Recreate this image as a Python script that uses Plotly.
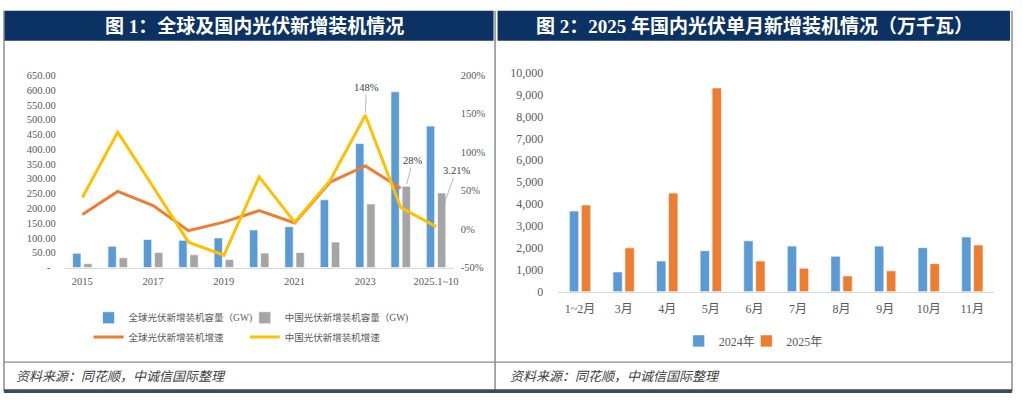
import plotly.graph_objects as go

# ---------------- data ----------------
years = ["2015", "2016", "2017", "2018", "2019", "2020", "2021", "2022", "2023", "2024", "2025.1~10"]
year_ticks = ["2015", "2017", "2019", "2021", "2023", "2025.1~10"]
global_gw = [48, 72, 95, 92, 100, 127, 138, 229, 419, 594, 478]
china_gw = [13, 33, 51, 43, 27, 49, 51, 86, 215, 275, 252]
global_growth_years = years[:10]
global_growth = [19, 49, 30.5, -2, 9, 24, 8, 61, 82, 53]
china_growth = [41, 126, 55, -17, -34, 68, 9, 63, 148, 28, 3.21]
left_ticks = [0, 50, 100, 150, 200, 250, 300, 350, 400, 450, 500, 550, 600, 650]
left_ticktext = ["-  "] + [f"{v:.2f}" for v in left_ticks[1:]]
pct_ticks = [-50, 0, 50, 100, 150, 200]
pct_ticktext = [f"{v}%" for v in pct_ticks]

months = ["1~2月", "3月", "4月", "5月", "6月", "7月", "8月", "9月", "10月", "11月"]
m2024 = [3680, 900, 1400, 1870, 2320, 2080, 1620, 2080, 2010, 2500]
m2025 = [3960, 2000, 4500, 9300, 1400, 1070, 720, 950, 1280, 2130]
right_ticks = list(range(0, 10001, 1000))

labelled = [("2023", 148, "148%"), ("2024", 28, "28%"), ("2025.1~10", 3.21, "3.21%")]

# ---------------- style ----------------
W, H = 1022, 400
FONT = "Liberation Serif, 'Noto Sans CJK SC', serif"
TICK = "#595959"
NAVY = "#0B3263"
FRAME = "#8C8C8C"
BLUE, GRAY, ORANGE, YELLOW = "#5B9BD5", "#A5A5A5", "#ED7D31", "#FFC000"


def px(x):
    return x / W


def py(y):
    return 1 - y / H


fig = go.Figure()

# left chart bars
fig.add_trace(go.Bar(x=years, y=global_gw, name="全球光伏新增装机容量（GW)",
                     marker=dict(color=BLUE, line=dict(color="white", width=0.6)),
                     width=0.235, offset=-0.275, xaxis="x", yaxis="y", legend="legend"))
fig.add_trace(go.Bar(x=years, y=china_gw, name="中国光伏新增装机容量（GW)",
                     marker=dict(color=GRAY, line=dict(color="white", width=0.6)),
                     width=0.235, offset=0.04, xaxis="x", yaxis="y", legend="legend4"))
# left chart lines
fig.add_trace(go.Scatter(x=global_growth_years, y=global_growth, mode="lines", name="全球光伏新增装机增速",
                         line=dict(color=ORANGE, width=3), xaxis="x", yaxis="y2", legend="legend3"))
fig.add_trace(go.Scatter(x=years, y=china_growth, mode="lines", name="中国光伏新增装机增速",
                         line=dict(color=YELLOW, width=3), xaxis="x", yaxis="y2", legend="legend5"))

# right chart bars
fig.add_trace(go.Bar(x=months, y=m2024, name="2024年",
                     marker=dict(color=BLUE, line=dict(color="white", width=0.6)),
                     width=0.215, offset=-0.245, xaxis="x2", yaxis="y3", legend="legend2"))
fig.add_trace(go.Bar(x=months, y=m2025, name="2025年",
                     marker=dict(color=ORANGE, line=dict(color="white", width=0.6)),
                     width=0.215, offset=0.03, xaxis="x2", yaxis="y3", legend="legend6"))

tickfont_l = dict(family=FONT, size=10.5, color=TICK)
tickfont_r = dict(family=FONT, size=12, color=TICK)

annotations = []
# data labels with leader lines (x given as category index)
offsets = {"2023": (1, -28, 2), "2024": (12, -47, 24), "2025.1~10": (20, -56, 22)}
for cat, val, txt in labelled:
    ax, ay, so = offsets[cat]
    annotations.append(dict(x=years.index(cat), y=val, xref="x", yref="y2", text=txt, showarrow=True,
                            arrowhead=0, arrowwidth=0.8, arrowcolor="#A6A6A6", ax=ax, ay=ay,
                            standoff=so, font=dict(family=FONT, size=10.5, color="#404040")))
# titles
annotations.append(dict(x=px(256), y=py(19.5), xref="paper", yref="paper", showarrow=False,
                        xanchor="center", yanchor="middle",
                        text="<b>图 1：全球及国内光伏新增装机情况</b>",
                        font=dict(family=FONT, size=19, color="white")))
annotations.append(dict(x=px(758), y=py(19.5), xref="paper", yref="paper", showarrow=False,
                        xanchor="center", yanchor="middle",
                        text="<b>图 2：2025 年国内光伏单月新增装机情况（万千瓦）</b>",
                        font=dict(family=FONT, size=19, color="white")))
# footers
for fx in (14, 510):
    annotations.append(dict(x=px(fx), y=py(383), xref="paper", yref="paper", showarrow=False,
                            xanchor="left", yanchor="middle", text="<i>资料来源：同花顺，中诚信国际整理</i>",
                            font=dict(family=FONT, size=13, color="#404040")))

shapes = [
    dict(type="rect", xref="paper", yref="paper", x0=px(4), x1=px(496), y0=py(35), y1=py(4),
         fillcolor=NAVY, line=dict(width=0)),
    dict(type="rect", xref="paper", yref="paper", x0=px(500), x1=px(1015), y0=py(35), y1=py(4),
         fillcolor=NAVY, line=dict(width=0)),
    dict(type="line", xref="paper", yref="paper", x0=px(4), x1=px(4), y0=py(4), y1=py(398),
         line=dict(color=FRAME, width=1.5)),
    dict(type="line", xref="paper", yref="paper", x0=px(497.5), x1=px(497.5), y0=py(4), y1=py(398),
         line=dict(color=FRAME, width=1.5)),
    dict(type="line", xref="paper", yref="paper", x0=px(1017), x1=px(1017), y0=py(4), y1=py(398),
         line=dict(color=FRAME, width=1.5)),
    dict(type="line", xref="paper", yref="paper", x0=px(4), x1=px(1017), y0=py(368), y1=py(368),
         line=dict(color=FRAME, width=1.2)),
    dict(type="rect", xref="paper", yref="paper", x0=px(4), x1=px(1017), y0=py(400), y1=py(396),
         fillcolor="#3A4A63", line=dict(width=0)),
]

legend_font = dict(family=FONT, size=9.5, color=TICK)


def leg(x, y, font):
    return dict(orientation="h", x=px(x), y=py(y), xanchor="left", yanchor="middle",
                font=font, bgcolor="rgba(0,0,0,0)", itemclick=False, itemdoubleclick=False,
                visible=True)


fig.update_layout(
    width=W, height=H, margin=dict(l=0, r=0, t=0, b=0),
    paper_bgcolor="white", plot_bgcolor="white",
    showlegend=True,
    barmode="overlay",
    xaxis=dict(domain=[px(65), px(456)], type="category", categoryorder="array", categoryarray=years,
               range=[-0.5, 10.5], tickmode="array", tickvals=year_ticks, ticktext=year_ticks,
               showline=True, linecolor="#D9D9D9", linewidth=1, ticks="", showgrid=False,
               tickfont=tickfont_l, anchor="y", ticklabelstandoff=4),
    yaxis=dict(domain=[py(270), py(70.7)], range=[0, 650], tickmode="array", tickvals=left_ticks,
               ticktext=left_ticktext, showgrid=False, zeroline=False, showline=False, ticks="",
               tickfont=tickfont_l, anchor="x", ticklabelstandoff=8),
    yaxis2=dict(overlaying="y", side="right", anchor="x", range=[-50, 200], tickmode="array",
                tickvals=pct_ticks, ticktext=pct_ticktext, showgrid=False, zeroline=False,
                showline=False, ticks="", tickfont=tickfont_l, ticklabelstandoff=6),
    xaxis2=dict(domain=[px(561), px(999)], type="category", categoryorder="array", categoryarray=months,
                range=[-0.5, 9.5], showline=True, linecolor="#D9D9D9", linewidth=1, ticks="",
                showgrid=False, tickfont=tickfont_r, anchor="y3", ticklabelstandoff=6),
    yaxis3=dict(domain=[py(295), py(68)], range=[0, 10000], tickmode="array", tickvals=right_ticks,
                tickformat=",", showgrid=False, zeroline=False, showline=False, ticks="",
                tickfont=tickfont_r, anchor="x2", ticklabelstandoff=14),
    legend=leg(89, 322, legend_font),
    legend4=leg(246, 322, legend_font),
    legend3=leg(89, 342, legend_font),
    legend5=leg(246, 342, legend_font),
    legend2=leg(682, 346, tickfont_r),
    legend6=leg(750, 346, tickfont_r),
    annotations=annotations,
    shapes=shapes,
)

fig.write_html("out.html")
